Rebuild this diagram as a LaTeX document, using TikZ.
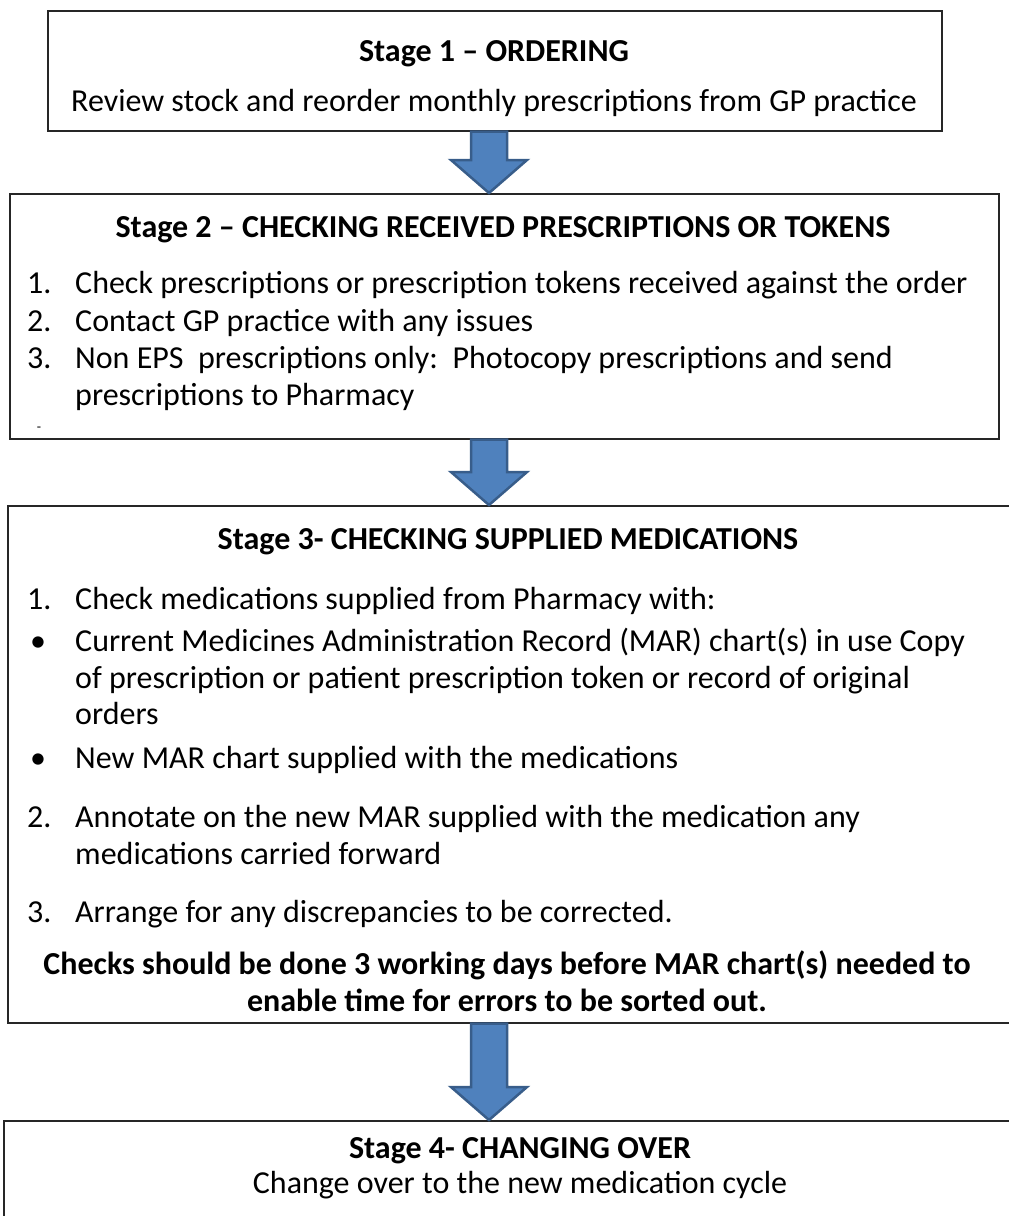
\documentclass[tikz,border=0pt]{standalone}
\usepackage{fontspec}
\setmainfont{Carlito}
\usetikzlibrary{calc}

\definecolor{arrowfill}{HTML}{4F81BD}
\definecolor{arrowline}{HTML}{385D8A}

% block arrow from the bottom of one box to the top of the next
\newcommand{\blockarrow}[2]{%
    \filldraw[arrow_style] ($(ax |- #1.south)+(-18,0)$) -- ($(ax |- #2.north)+(-18,-33)$)
        -- ($(ax |- #2.north)+(-38,-33)$) -- (ax |- #2.north)
        -- ($(ax |- #2.north)+(38,-33)$) -- ($(ax |- #2.north)+(18,-33)$)
        -- ($(ax |- #1.south)+(18,0)$) -- cycle;}

\begin{document}
\begin{tikzpicture}[
    x=1pt, y=-1pt,
    box_style/.style={rectangle, draw=black!85, line width=1.5pt, inner sep=0pt, anchor=north west},
    arrow_style/.style={fill=arrowfill, draw=arrowline, line width=2.5pt, line join=miter},
    title_style/.style={font=\fontsize{32}{38}\selectfont\bfseries, inner sep=0pt, anchor=base},
    line_style/.style={font=\fontsize{32}{38}\selectfont, inner sep=0pt, anchor=base west},
    centre_style/.style={font=\fontsize{32}{38}\selectfont, inner sep=0pt, anchor=base}
]
    \useasboundingbox (0,0) rectangle (1009,1216);
    \clip (0,0) rectangle (1009,1216);

    % Boxes
    \node[box_style, minimum width=894pt, minimum height=120pt] (stage1) at (47,10) {};
    \node[box_style, minimum width=989pt, minimum height=245pt] (stage2) at (9,193) {};
    \node[box_style, minimum width=1010pt, minimum height=517pt] (stage3) at (7,505) {};
    \node[box_style, minimum width=1040pt, minimum height=130pt] (stage4) at (3,1120) {};

    % Arrows
    \coordinate (ax) at (489,0);
    \blockarrow{stage1}{stage2}
    \blockarrow{stage2}{stage3}
    \blockarrow{stage3}{stage4}

    % Stage 1
    \node[title_style] (s1_title) at (494,61) {Stage 1 – ORDERING};
    \node[centre_style] (s1_text) at (494,111) {Review stock and reorder monthly prescriptions from GP practice};

    % Stage 2
    \node[title_style] (s2_title) at (503,237) {Stage 2 – CHECKING RECEIVED PRESCRIPTIONS OR TOKENS};
    \node[line_style] (s2_n1) at (27,293) {1.};
    \node[line_style] (s2_l1) at (75,293) {Check prescriptions or prescription tokens received against the order};
    \node[line_style] (s2_n2) at (27,331) {2.};
    \node[line_style] (s2_l2) at (75,331) {Contact GP practice with any issues};
    \node[line_style] (s2_n3) at (27,368) {3.};
    \node[line_style] (s2_l3) at (75,368) {Non EPS\ \ prescriptions only:\ \ Photocopy prescriptions and send};
    \node[line_style] (s2_l4) at (75,405) {prescriptions to Pharmacy};
    \node[font=\fontsize{14}{16}\selectfont, inner sep=0pt] (s2_dash) at (39,429) {-};

    % Stage 3
    \node[title_style] (s3_title) at (508,549) {Stage 3- CHECKING SUPPLIED MEDICATIONS};
    \node[line_style] (s3_n1) at (27,609) {1.};
    \node[line_style] (s3_l1) at (75,609) {Check medications supplied from Pharmacy with:};
    \node[line_style] (s3_b1) at (30,651) {\textbullet};
    \node[line_style] (s3_l2) at (75,651) {Current Medicines Administration Record (MAR) chart(s) in use Copy};
    \node[line_style] (s3_l3) at (75,688) {of prescription or patient prescription token or record of original};
    \node[line_style] (s3_l4) at (75,724) {orders};
    \node[line_style] (s3_b2) at (30,768) {\textbullet};
    \node[line_style] (s3_l5) at (75,768) {New MAR chart supplied with the medications};
    \node[line_style] (s3_n2) at (27,827) {2.};
    \node[line_style] (s3_l6) at (75,827) {Annotate on the new MAR supplied with the medication any};
    \node[line_style] (s3_l7) at (75,864) {medications carried forward};
    \node[line_style] (s3_n3) at (27,922) {3.};
    \node[line_style] (s3_l8) at (75,922) {Arrange for any discrepancies to be corrected.};
    \node[title_style] (s3_note1) at (507,974) {Checks should be done 3 working days before MAR chart(s) needed to};
    \node[title_style] (s3_note2) at (507,1011) {enable time for errors to be sorted out.};

    % Stage 4
    \node[title_style] (s4_title) at (520,1158) {Stage 4- CHANGING OVER};
    \node[centre_style] (s4_text) at (520,1193) {Change over to the new medication cycle};

\end{tikzpicture}
\end{document}
